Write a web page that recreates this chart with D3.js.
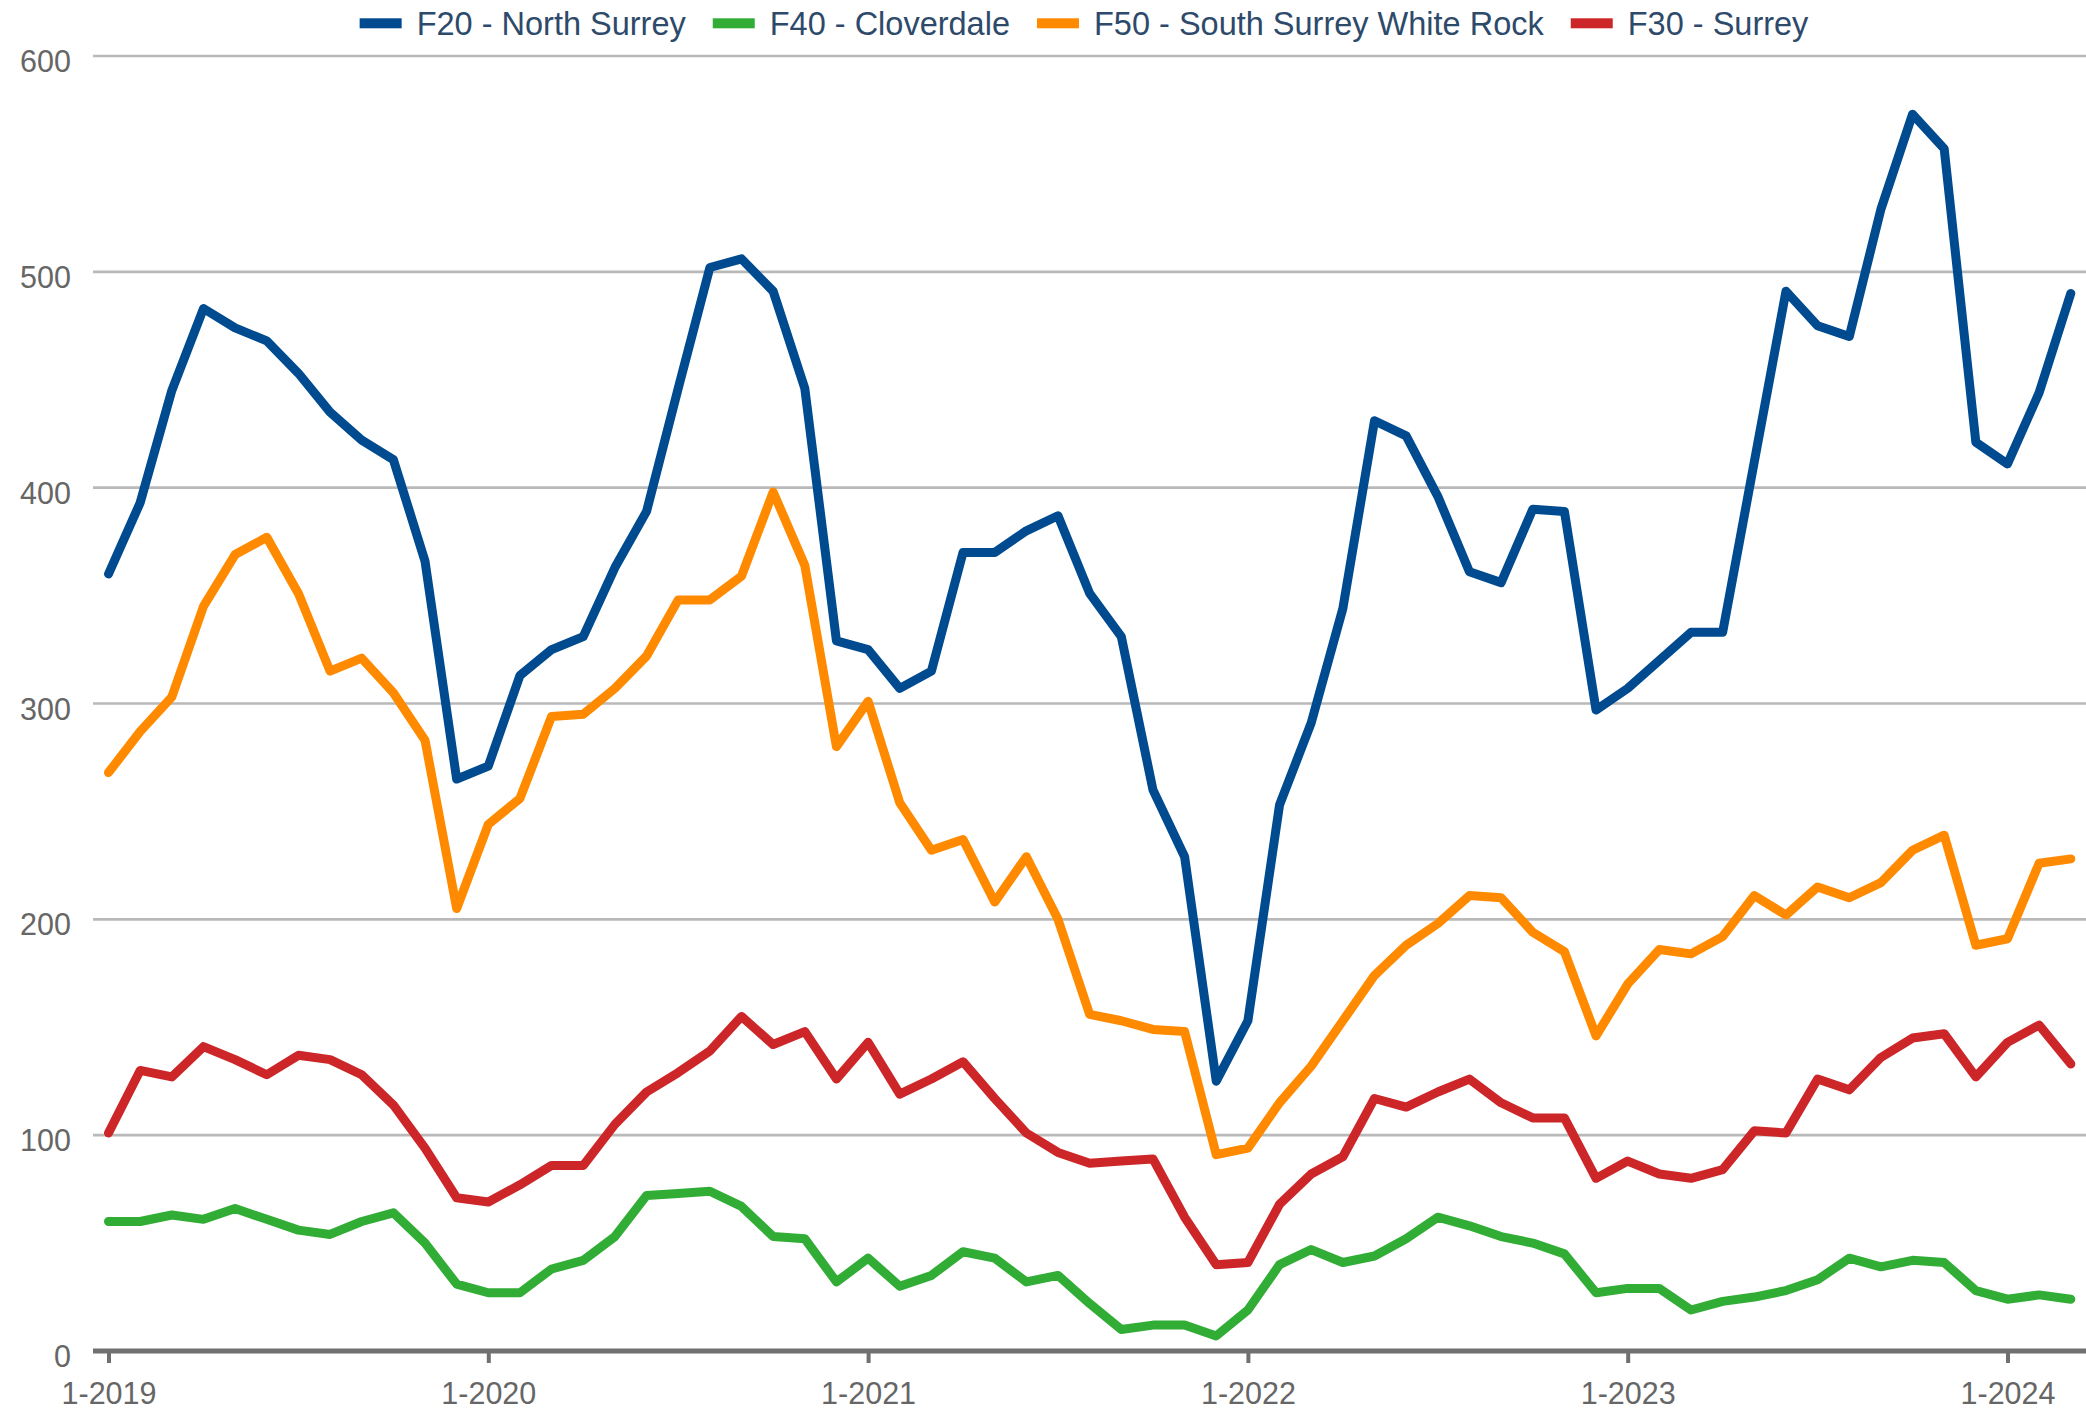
<!DOCTYPE html>
<html>
<head>
<meta charset="utf-8">
<script src="https://cdn.jsdelivr.net/npm/d3@7"></script>
<style>
  html, body { margin: 0; padding: 0; background: #ffffff; }
  svg { display: block; font-family: "Liberation Sans", Arial, sans-serif; }
</style>
</head>
<body>
<svg id="chart" width="2086" height="1409"></svg>
<script>
// Monthly categories, January 2019 through March 2024
const months = d3.timeMonth.range(new Date(2019, 0, 1), new Date(2024, 3, 1));
const xTickLabels = ["1-2019", "1-2020", "1-2021", "1-2022", "1-2023", "1-2024"];
const yTicks = [0, 100, 200, 300, 400, 500, 600];

const seriesNames = ["F20 - North Surrey", "F40 - Cloverdale", "F50 - South Surrey White Rock", "F30 - Surrey"];
const seriesColors = ["#004a8f", "#31ad36", "#ff8a00", "#cc2629"];

const northSurrey = [360, 393, 445, 483, 474, 468, 453, 435, 422, 413, 366, 265,
  271, 313, 325, 331, 363, 389, 446, 502, 506, 491, 446, 329,
  325, 307, 315, 370, 370, 380, 387, 351, 331, 260, 229, 125,
  153, 253, 291, 344, 431, 424, 396, 361, 356, 390, 389, 297,
  307, 320, 333, 333, 412, 491, 475, 470, 529, 573, 557, 421,
  411, 444, 490];
const cloverdale = [60, 60, 63, 61, 66, 61, 56, 54, 60, 64, 50, 31,
  27, 27, 38, 42, 53, 72, 73, 74, 67, 53, 52, 32,
  43, 30, 35, 46, 43, 32, 35, 22, 10, 12, 12, 7,
  19, 40, 47, 41, 44, 52, 62, 58, 53, 50, 45, 27,
  29, 29, 19, 23, 25, 28, 33, 43, 39, 42, 41, 28,
  24, 26, 24];
const southSurreyWhiteRock = [268, 287, 303, 345, 369, 377, 351, 315, 321, 305, 283, 205,
  244, 256, 294, 295, 307, 322, 348, 348, 359, 398, 364, 280,
  301, 254, 232, 237, 208, 229, 200, 156, 153, 149, 148, 91,
  94, 115, 132, 153, 174, 188, 198, 211, 210, 194, 185, 146,
  170, 186, 184, 192, 211, 202, 215, 210, 217, 232, 239, 188,
  191, 226, 228];
const surrey = [101, 130, 127, 141, 135, 128, 137, 135, 128, 114, 94, 71,
  69, 77, 86, 86, 105, 120, 129, 139, 155, 142, 148, 126,
  143, 119, 126, 134, 117, 101, 92, 87, 88, 89, 62, 40,
  41, 68, 82, 90, 117, 113, 120, 126, 115, 108, 108, 80,
  88, 82, 80, 84, 102, 101, 126, 121, 136, 145, 147, 127,
  143, 151, 133];

const seriesValues = [northSurrey, cloverdale, southSurreyWhiteRock, surrey];

const svg = d3.select("#chart");
const W = 2086, H = 1409;
const plotLeft = 93, plotRight = W;
const yTop = 56, yBottom = 1351;
const firstX = 108.5, monthStep = 31.65;
const axisFont = 30.5;

const x = d3.scaleLinear()
  .domain([0, months.length - 1])
  .range([firstX, firstX + (months.length - 1) * monthStep]);
const y = d3.scaleLinear().domain([0, 600]).range([yBottom, yTop]);

// Horizontal gridlines
svg.append("g")
  .selectAll("line")
  .data(yTicks.filter(d => d > 0))
  .join("line")
  .attr("x1", plotLeft).attr("x2", plotRight)
  .attr("y1", d => y(d)).attr("y2", d => y(d))
  .attr("stroke", "#b9b9b9")
  .attr("stroke-width", 2.7);

// Y axis labels
const yAxis = d3.axisLeft(y).tickValues(yTicks).tickSize(0).tickPadding(0);
const yG = svg.append("g").attr("transform", `translate(71,0)`).call(yAxis);
yG.select(".domain").remove();
yG.selectAll("text")
  .attr("fill", "#666666")
  .attr("font-size", axisFont)
  .attr("font-family", "'Liberation Sans', Arial, sans-serif")
  .attr("dy", null)
  .attr("y", 15.5);

// X axis: baseline, tick marks and year labels
const yearIdx = xTickLabels.map((_, k) => k * 12);
const xAxis = d3.axisBottom(x)
  .tickValues(yearIdx)
  .tickFormat((d, k) => xTickLabels[k])
  .tickSize(12)
  .tickSizeOuter(0)
  .tickPadding(19);
const xG = svg.append("g").attr("transform", `translate(0,${yBottom})`).call(xAxis);
xG.select(".domain").remove();
xG.selectAll(".tick line").attr("stroke", "#707070").attr("stroke-width", 4);
xG.selectAll("text")
  .attr("fill", "#666666")
  .attr("font-size", axisFont)
  .attr("font-family", "'Liberation Sans', Arial, sans-serif");
svg.append("line")
  .attr("x1", plotLeft).attr("x2", plotRight)
  .attr("y1", yBottom).attr("y2", yBottom)
  .attr("stroke", "#707070")
  .attr("stroke-width", 5);

// Series lines
const line = d3.line()
  .x((d, i) => x(i))
  .y(d => y(d));

svg.append("g")
  .selectAll("path")
  .data(seriesValues)
  .join("path")
  .attr("d", d => line(d))
  .attr("fill", "none")
  .attr("stroke", (d, k) => seriesColors[k])
  .attr("stroke-width", 9)
  .attr("stroke-linejoin", "round")
  .attr("stroke-linecap", "round");

// Legend across the top
const legend = svg.append("g").attr("transform", "translate(0,23.3)");
const legendFont = 32.5;
const swatchW = 42, swatchH = 10, gap = 15, itemGap = 27;
const items = [];
seriesNames.forEach((name, k) => {
  const g = legend.append("g");
  g.append("rect")
    .attr("x", 0).attr("y", -swatchH / 2)
    .attr("width", swatchW).attr("height", swatchH)
    .attr("fill", seriesColors[k]);
  const t = g.append("text")
    .attr("x", swatchW + gap)
    .attr("dy", "0.36em")
    .attr("font-size", legendFont)
    .attr("fill", "#2e4a6b")
    .text(name);
  const w = swatchW + gap + t.node().getComputedTextLength();
  items.push({ g, w });
});
const totalW = items.reduce((s, it) => s + it.w, 0) + itemGap * (items.length - 1);
let cursor = 1084 - totalW / 2;
items.forEach(it => {
  it.g.attr("transform", `translate(${cursor},0)`);
  cursor += it.w + itemGap;
});
</script>
</body>
</html>
